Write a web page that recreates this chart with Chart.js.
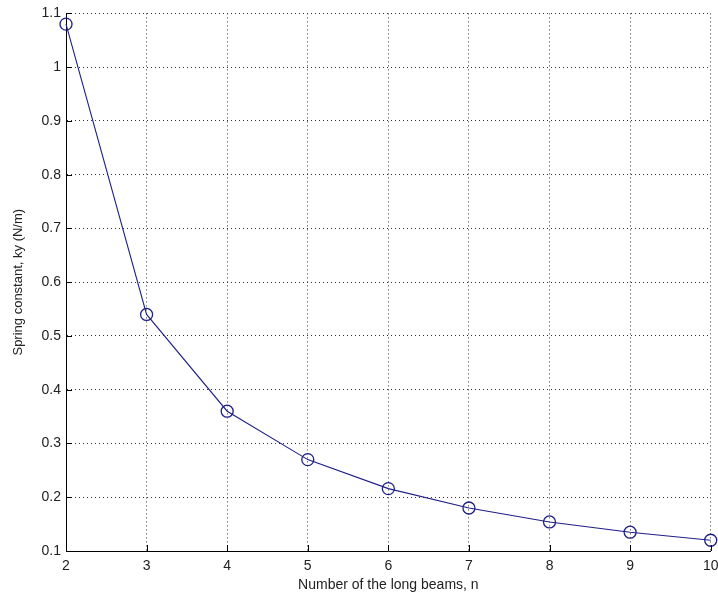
<!DOCTYPE html>
<html>
<head>
<meta charset="utf-8">
<script src="https://cdn.jsdelivr.net/npm/chart.js@4"></script>
<style>
  html, body { margin: 0; padding: 0; background: #fff; }
  #wrap { width: 718px; height: 604px; }
</style>
</head>
<body>
<div id="wrap"><canvas id="springChart" width="718" height="604"></canvas></div>
<script>
// Spring constant vs number of long beams
const beamCounts = [2, 3, 4, 5, 6, 7, 8, 9, 10];
const springConstants = [1.08, 0.54, 0.36, 0.27, 0.216, 0.18, 0.154, 0.135, 0.12];
const yTickValues = [0.1, 0.2, 0.3, 0.4, 0.5, 0.6, 0.7, 0.8, 0.9, 1, 1.1];
const xTickValues = [2, 3, 4, 5, 6, 7, 8, 9, 10];

const lineColor = "#1f1f88";
const font = { family: "'Liberation Sans', Arial, sans-serif", size: 14 };

// MATLAB style ticks pointing into the plot
const innerTicks = {
  id: "innerTicks",
  afterDraw(chart) {
    const ctx = chart.ctx;
    const xs = chart.scales.x, ys = chart.scales.y;
    const len = 6;
    ctx.save();
    ctx.strokeStyle = "#000";
    ctx.lineWidth = 1;
    ctx.beginPath();
    xTickValues.forEach(v => {
      const px = Math.round(xs.getPixelForValue(v)) + 0.5;
      ctx.moveTo(px, ys.bottom);
      ctx.lineTo(px, ys.bottom - len);
    });
    yTickValues.forEach(v => {
      const py = Math.round(ys.getPixelForValue(v)) + 0.5;
      ctx.moveTo(xs.left, py);
      ctx.lineTo(xs.left + len, py);
    });
    ctx.stroke();
    ctx.restore();
  }
};

const ctx = document.getElementById("springChart").getContext("2d");
new Chart(ctx, {
  type: "line",
  data: {
    datasets: [{
      label: "ky",
      data: beamCounts.map((n, i) => ({ x: n, y: springConstants[i] })),
      borderColor: lineColor,
      borderWidth: 1.1,
      pointStyle: "circle",
      pointRadius: 6,
      pointBorderWidth: 1.3,
      pointBorderColor: lineColor,
      pointBackgroundColor: "rgba(0,0,0,0)",
      tension: 0,
      fill: false,
      clip: false
    }]
  },
  options: {
    responsive: false,
    animation: false,
    layout: { padding: { top: 11, right: 6, left: 0, bottom: 0 } },
    plugins: {
      legend: { display: false },
      tooltip: { enabled: false }
    },
    scales: {
      x: {
        type: "linear",
        min: 2,
        max: 10,
        afterBuildTicks: s => { s.ticks = xTickValues.map(v => ({ value: v })); },
        afterFit: s => { s.height = 53; s.paddingLeft = 0; s.paddingRight = 0; },
        border: { display: true, color: "#000", width: 1, dash: [1, 3] },
        grid: { color: "#333", drawTicks: false },
        ticks: { color: "#222", font: font, padding: 7, maxRotation: 0, autoSkip: false },
        title: {
          display: true,
          text: "Number of the long beams, n",
          color: "#222",
          font: font,
          padding: { top: 2, bottom: 10 }
        }
      },
      y: {
        type: "linear",
        min: 0.1,
        max: 1.1,
        afterBuildTicks: s => { s.ticks = yTickValues.map(v => ({ value: v })); },
        afterFit: s => { s.width = 66; },
        border: { display: true, color: "#000", width: 1, dash: [1, 3] },
        grid: { color: "#333", drawTicks: false },
        ticks: {
          color: "#222",
          font: font,
          padding: 5,
          autoSkip: false,
          callback: v => String(Number(v.toFixed(2)))
        },
        title: {
          display: true,
          text: "Spring constant, ky (N/m)",
          color: "#222",
          font: { family: font.family, size: 13 },
          padding: { top: 11, bottom: 0 }
        }
      }
    }
  },
  plugins: [innerTicks]
});
</script>
</body>
</html>
